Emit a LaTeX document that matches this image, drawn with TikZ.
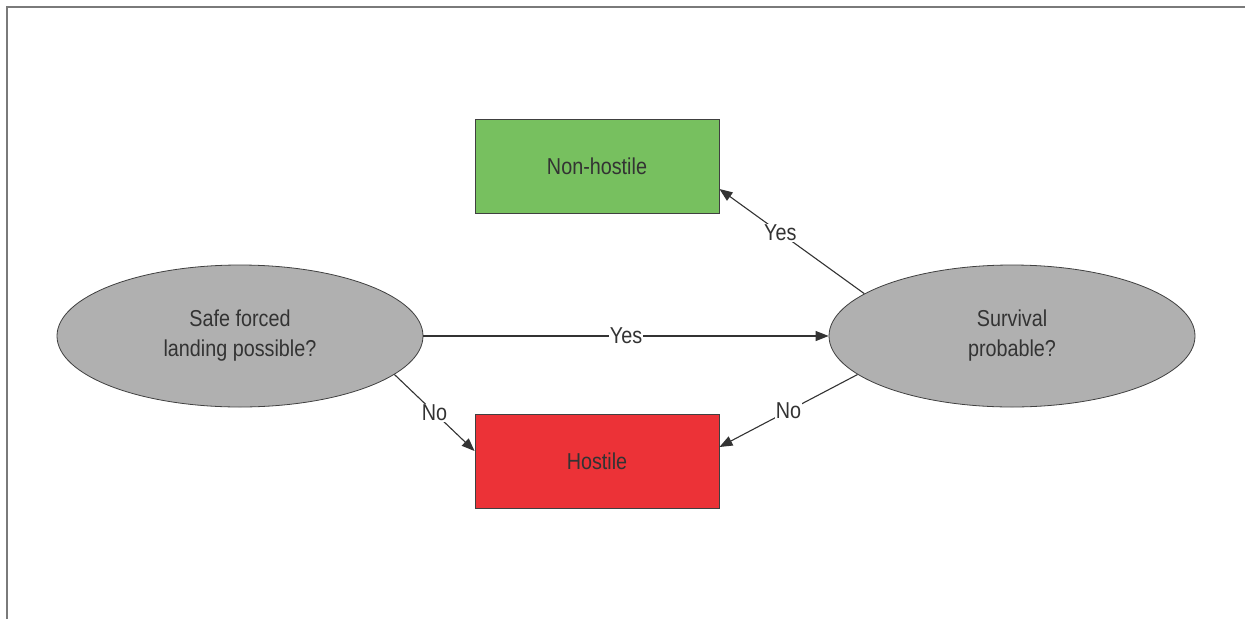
\documentclass[tikz,border=0pt]{standalone}
\usepackage{fontspec}
\setmainfont[FakeStretch=0.86]{Liberation Sans}
\usetikzlibrary{shapes.geometric,arrows.meta}
\definecolor{txt}{HTML}{333333}
\definecolor{edge}{HTML}{404040}
\definecolor{frame}{HTML}{7A7A7A}
\definecolor{ellfill}{HTML}{B0B0B0}
\definecolor{greenfill}{HTML}{77C05F}
\definecolor{redfill}{HTML}{EC3237}
\tikzset{
  decision/.style={ellipse, draw=edge, line width=0.8pt, fill=ellfill, minimum width=366pt, minimum height=142pt, inner sep=0pt, align=center, text=txt},
  outcome/.style={rectangle, draw=edge, line width=0.9pt, minimum width=244pt, minimum height=94pt, inner sep=0pt, text=txt},
  conn/.style={draw=txt, line width=1.1pt, -{Triangle[length=13pt,width=10pt]}},
  lbl/.style={fill=white, inner sep=1pt, text=txt}
}
\begin{document}
\begin{tikzpicture}[x=1pt,y=-1pt,font=\fontsize{23}{30}\selectfont]
\useasboundingbox (0,0) rectangle (1245,619);
\draw[frame, line width=2.2pt] (6.8,619) -- (6.8,6.8) -- (1245,6.8);
\node[decision] (sl) at (240,336) {Safe forced\\landing possible?};
\node[decision] (sr) at (1012,336) {Survival\\probable?};
\node[outcome, fill=greenfill] (nh) at (597,166) {Non-hostile};
\node[outcome, fill=redfill] (ho) at (597,461) {Hostile};
\draw[conn] (sl.east) -- node[lbl] {Yes} (sr.west);
\draw[conn] (sr.164) -- node[lbl, pos=0.58] {Yes} ([yshift=-23pt]nh.east);
\draw[conn] (sl.-14) -- node[lbl, pos=0.5] {No} ([yshift=10pt]ho.west);
\draw[conn] (sr.194) -- node[lbl, pos=0.5] {No} ([yshift=14pt]ho.east);
\end{tikzpicture}
\end{document}
